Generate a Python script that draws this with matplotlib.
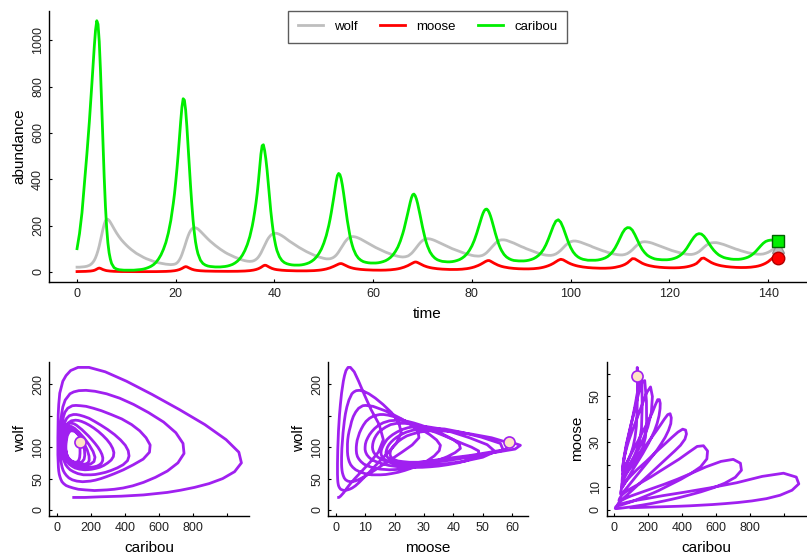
import matplotlib
matplotlib.use("Agg")
import matplotlib.pyplot as plt
import numpy as np

plt.rcParams['font.family'] = ['Liberation Sans', 'DejaVu Sans']

# model output: every half time unit, and every quarter
# unit inside the windows around the big caribou peaks
fine_windows = [(1.5, 7.0), (19.5, 24.5), (35.5, 40.5), (51.0, 56.0), (66.0, 71.0), (81.0, 86.0)]
time = np.union1d(np.arange(0, 142.25, 0.5),
                  np.concatenate([np.arange(a, b + 0.125, 0.25) for a, b in fine_windows]))

caribou = [
    100, 165, 255,
    380, 445, 510, 578, 650, 728, 810, 895, 975, 1045, 1085, 1070, 995, 870, 720, 560, 410, 285, 190, 125, 82, 55, 36,
    18, 12, 9, 8, 7, 7, 7, 7, 7, 8, 9, 10, 12, 15, 19, 24, 31, 41, 55, 73, 97, 127, 168, 222,
    295, 338, 390, 447, 510, 580, 650, 712, 748, 742, 700, 628, 540, 452, 370, 293, 225, 172, 130, 100, 78,
    50, 36, 29, 25, 23, 22, 21, 21, 21, 22, 23, 25, 28, 32, 38, 46, 57, 72, 92, 118, 152,
    198, 227, 260, 297, 340, 392, 450, 508, 545, 549, 525, 488, 440, 382, 320, 263, 215, 173, 140, 113, 92,
    65, 49, 40, 35, 32, 30, 29, 29, 29, 30, 32, 35, 39, 45, 53, 64, 79, 98, 124, 157,
    200, 226, 255, 287, 320, 356, 390, 416, 425, 420, 403, 375, 340, 300, 260, 223, 190, 160, 135, 115, 98,
    74, 59, 50, 44, 41, 39, 38, 38, 38, 39, 41, 44, 48, 54, 62, 73, 88, 107, 133,
    166, 185, 207, 230, 253, 277, 300, 320, 333, 336, 329, 315, 295, 271, 245, 218, 192, 168, 146, 127, 111,
    86, 70, 59, 52, 48, 45, 44, 43, 43, 44, 46, 49, 53, 59, 67, 78, 93, 112, 137,
    168, 185, 203, 221, 238, 253, 264, 270, 271, 266, 256, 242, 225, 206, 186, 166, 148, 131, 116, 103, 92,
    75, 64, 57, 52, 49, 48, 47,
    47, 47, 48, 50, 53, 57, 63, 71, 82, 97, 117, 142, 170, 198, 219, 225, 214, 190, 160, 130,
    105, 86, 73, 64, 58, 54, 52, 50, 50, 50, 50, 51, 53, 56, 60, 66, 75, 87, 103, 123,
    146, 168, 184, 191, 190, 180, 161, 138, 116, 97, 83, 72, 65, 60, 56, 54, 53, 52, 52, 52,
    53, 55, 58, 62, 68, 76, 87, 101, 118, 135, 150, 161, 165, 163, 154, 140, 123, 107, 93, 82,
    73, 67, 62, 59, 57, 55, 54, 54, 54, 55, 57, 60, 64, 70, 78, 88, 100, 112, 123, 131,
    135, 137, 137, 136, 135,
]

wolf = [
    20, 20, 21,
    22, 23, 24, 26, 28, 31.5, 36, 42, 50, 61, 75, 92, 112, 136, 160, 184, 205, 220, 227, 227, 222, 214, 205,
    186, 168, 152, 138, 126, 115, 105, 96, 88, 80, 74, 68, 62, 57, 53, 49, 45, 42, 39, 37, 35, 33, 32, 31,
    32, 33, 35, 38.5, 44, 52, 62, 75, 90, 106, 123, 140, 155, 168, 178, 185, 189, 190.5, 190, 188, 185,
    175, 164, 153, 142, 132, 123, 114, 106, 98, 91, 84, 78, 73, 68, 63, 59, 55, 51, 48, 46, 45,
    46, 47.5, 50, 53.5, 58, 64, 72, 81, 92, 103.5, 115, 126, 136, 145, 152, 158, 162, 165, 166, 166.5, 166,
    162, 156, 149, 141, 133, 126, 119, 112, 105, 99, 93, 87, 82, 77, 72, 68, 64, 61, 58, 56,
    56, 56.5, 58, 60, 63, 67, 72, 78.5, 86, 94.5, 103, 111.5, 120, 128, 135, 141, 146, 149, 151, 152, 152,
    150, 146, 141, 135, 129, 123, 117, 111, 105, 100, 95, 90, 85, 81, 77, 73, 70, 67, 65,
    64, 64.3, 65, 66.3, 68, 71, 75, 79.5, 85, 91.3, 98, 105, 112, 118.7, 125, 130.5, 135, 138.5, 141, 142.5, 143,
    142, 139, 135, 130, 125, 120, 115, 110, 105, 100, 96, 92, 88, 84, 80, 77, 74, 71, 69,
    68, 67.8, 68, 68.8, 70, 72.2, 75, 78.7, 83, 88.3, 94, 100, 106, 112, 118, 123.3, 128, 131.8, 135, 137, 138,
    138, 136, 132, 128, 124, 119, 114,
    109, 105, 100, 96, 92, 88, 84, 80, 77, 74, 72, 71, 71, 73, 77, 84, 93, 104, 115, 124,
    130, 133, 133, 131, 128, 124, 120, 116, 112, 107, 103, 99, 95, 91, 88, 84, 81, 78, 76, 74,
    73, 73, 75, 79, 86, 95, 106, 116, 124, 129, 130, 129, 127, 124, 120, 116, 112, 108, 104, 100,
    96, 92, 89, 86, 83, 80, 78, 76, 75, 75, 77, 81, 87, 96, 106, 115, 121, 125, 126, 126,
    124, 121, 118, 114, 110, 106, 102, 98, 95, 91, 88, 85, 82, 80, 78, 77, 76, 76, 77, 80,
    84, 90, 97, 103, 109,
]

moose = [
    1.0, 1.15, 1.35,
    1.65, 1.85, 2.1, 2.4, 2.8, 3.3, 4.0, 5.0, 6.5, 8.7, 11.5, 14.5, 16.2, 14.8, 12.0, 9.7, 7.8, 6.3, 5.0, 4.2, 3.5, 3.0, 2.6,
    2.0, 1.6, 1.3, 1.1, 0.95, 0.85, 0.77, 0.7, 0.66, 0.63, 0.61, 0.6, 0.6, 0.61, 0.63, 0.67, 0.73, 0.82, 0.95, 1.12, 1.35, 1.7, 2.2, 2.9,
    4.0, 4.7, 5.6, 6.7, 8.0, 9.7, 11.8, 14.4, 17.5, 20.6, 22.3, 21.4, 19.0, 16.1, 13.5, 11.3, 9.5, 8.1, 7.0, 6.2, 5.5,
    4.5, 3.8, 3.3, 2.95, 2.7, 2.5, 2.35, 2.2, 2.1, 2.05, 2.0, 2.0, 2.0, 2.05, 2.15, 2.3, 2.55, 2.9, 3.4, 4.1, 5.1,
    6.5, 7.4, 8.5, 9.9, 11.5, 13.5, 16.0, 19.0, 22.5, 26.0, 28.3, 28.0, 25.5, 22.4, 19.5, 16.8, 14.5, 12.7, 11.2, 10.1, 9.2,
    7.8, 6.8, 6.0, 5.4, 5.0, 4.6, 4.3, 4.1, 4.0, 4.0, 4.0, 4.1, 4.3, 4.6, 5.1, 5.8, 6.8, 8.1, 9.9, 12.2,
    15.2, 17.0, 19.0, 21.2, 23.5, 26.0, 28.5, 31.2, 33.5, 35.2, 35.6, 34.3, 32.0, 29.2, 26.5, 23.9, 21.5, 19.5, 17.8, 16.3, 15.0,
    13.0, 11.5, 10.3, 9.4, 8.7, 8.1, 7.7, 7.3, 7.1, 7.0, 7.0, 7.1, 7.4, 7.9, 8.6, 9.6, 11.0, 12.8, 15.2,
    18.2, 20.0, 22.0, 24.2, 26.5, 29.2, 32.0, 35.1, 38.0, 40.6, 42.4, 42.0, 40.0, 37.3, 34.5, 31.7, 29.0, 26.6, 24.5, 22.7, 21.0,
    18.3, 16.2, 14.6, 13.3, 12.3, 11.5, 10.9, 10.4, 10.1, 10.0, 10.0, 10.2, 10.6, 11.3, 12.3, 13.7, 15.6, 18.0, 21.0,
    24.8, 27.1, 29.5, 32.2, 35.0, 38.2, 41.5, 44.6, 47.0, 48.6, 48.6, 46.2, 43.0, 40.0, 37.0, 34.2, 31.5, 29.1, 27.0, 25.2, 23.5,
    20.8, 18.7, 17.0, 15.7, 14.6, 13.8, 13.2,
    12.8, 12.6, 12.5, 12.6, 12.9, 13.5, 14.4, 15.7, 17.5, 19.8, 22.8, 26.5, 31.0, 36.5, 43.0, 50.0, 54.2, 51.5, 45.5, 39.5,
    34.5, 30.5, 27.2, 24.6, 22.5, 20.8, 19.4, 18.3, 17.4, 16.7, 16.2, 15.8, 15.5, 15.4, 15.5, 15.8, 16.5, 17.6, 19.2, 21.4,
    24.0, 27.5, 32.0, 38.5, 48.0, 57.0, 56.0, 49.5, 42.5, 37.0, 32.5, 29.0, 26.2, 24.0, 22.2, 20.8, 19.7, 18.8, 18.1, 17.6,
    17.3, 17.1, 17.1, 17.3, 17.8, 18.6, 19.8, 21.5, 23.8, 26.8, 30.6, 36.0, 46.0, 57.5, 59.5, 53.0, 46.0, 40.0, 35.3, 31.5,
    28.5, 26.1, 24.2, 22.7, 21.5, 20.5, 19.7, 19.1, 18.7, 18.5, 18.5, 18.7, 19.2, 20.0, 21.2, 22.8, 25.0, 28.0, 32.0, 37.0,
    43.5, 52.0, 61.0, 62.8, 59.0,
]

caribou = np.array(caribou, dtype=float)
wolf = np.array(wolf, dtype=float)
moose = np.array(moose, dtype=float)

GREY = '#bebebe'
GREEN = '#00ee00'
PURPLE = '#a020f0'
BISQUE = '#ffe4c4'
TICKCOL = '#222222'


def style(ax):
    # R look: "L" box, short inward ticks, y labels turned 90 degrees
    ax.spines['top'].set_visible(False)
    ax.spines['right'].set_visible(False)
    for s in ('left', 'bottom'):
        ax.spines[s].set_linewidth(1.0)
    ax.tick_params(direction='in', length=2.5, width=0.8, labelsize=9,
                   labelcolor=TICKCOL)
    ax.tick_params(axis='x', pad=4.5)
    ax.tick_params(axis='y', pad=3.5, labelrotation=90)
    for lab in ax.get_yticklabels():
        lab.set_verticalalignment('center')


def r_lim(lo, hi):
    d = 0.04 * (hi - lo)
    return lo - d, hi + d


fig = plt.figure(figsize=(8.07, 5.54), dpi=100)

# time series
ax = fig.add_axes([49 / 807, 1 - 281.7 / 554, 757 / 807, 271 / 554])
ax.plot(time, wolf, color=GREY, lw=2, label='wolf')
ax.plot(time, moose, color='red', lw=2, label='moose')
ax.plot(time, caribou, color=GREEN, lw=2, label='caribou')
ax.plot(time[-1], wolf[-1], marker='^', ms=8, mfc=GREY, mec='#999999', zorder=5)
ax.plot(time[-1], caribou[-1], marker='s', ms=8, mfc=GREEN, mec='#006400', zorder=6)
ax.plot(time[-1], moose[-1], marker='o', ms=9, mfc='red', mec='#b00000', zorder=6)
ax.set_xlim(*r_lim(time.min(), time.max()))
ally = np.concatenate([wolf, moose, caribou])
ax.set_ylim(*r_lim(ally.min(), ally.max()))
ax.set_xticks(np.arange(0, 141, 20))
ax.set_yticks(np.arange(0, 1001, 200))
style(ax)
ax.set_xlabel('time', fontsize=11, labelpad=5)
ax.set_ylabel('abundance', fontsize=11, labelpad=4)
leg = ax.legend(loc='upper center', bbox_to_anchor=(0.5, 1.0), ncol=3,
                fontsize=9.5, frameon=True, fancybox=False, borderaxespad=0,
                handlelength=1.9, handletextpad=0.85, columnspacing=1.7,
                borderpad=0.75)
leg.get_frame().set_edgecolor('#333333')
leg.get_frame().set_linewidth(1.0)

# phase planes
bottom = 1 - 515.7 / 554
height = 154 / 554
panels = [
    (49.3 / 807, caribou, wolf, 'caribou', 'wolf'),
    (328.3 / 807, moose, wolf, 'moose', 'wolf'),
    (606.7 / 807, caribou, moose, 'caribou', 'moose'),
]
for left, xs, ys, xl, yl in panels:
    a = fig.add_axes([left, bottom, 199.5 / 807, height])
    a.plot(xs, ys, color=PURPLE, lw=2)
    a.plot(xs[-1], ys[-1], marker='o', ms=8, mfc=BISQUE, mec=PURPLE, mew=1.2, zorder=5)
    a.set_xlim(*r_lim(0, xs.max()))
    a.set_ylim(*r_lim(0, ys.max()))
    if xl == 'caribou':
        a.set_xticks(np.arange(0, 1001, 200))
        a.set_xticklabels(['0', '200', '400', '600', '800', ''])
    else:
        a.set_xticks(np.arange(0, 61, 10))
    if yl == 'wolf':
        a.set_yticks([0, 50, 100, 150, 200])
        a.set_yticklabels(['0', '50', '100', '', '200'])
    else:
        a.set_yticks(np.arange(0, 61, 10))
        a.set_yticklabels(['0', '10', '', '30', '', '50', ''])
    style(a)
    a.set_xlabel(xl, fontsize=11, labelpad=5)
    a.set_ylabel(yl, fontsize=11, labelpad=4)

fig.savefig('out.png', dpi=100)
